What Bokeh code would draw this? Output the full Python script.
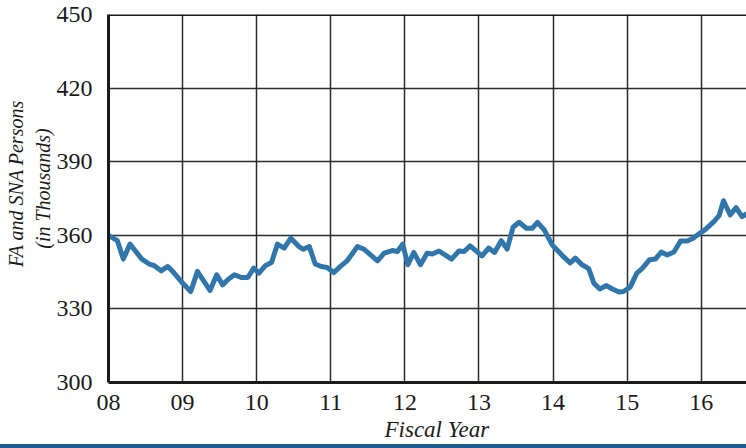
from bokeh.plotting import figure
from bokeh.models import FixedTicker, Span, Div, Range1d, Title
from bokeh.layouts import column
from bokeh.embed import file_html
from bokeh.resources import INLINE

# Fiscal year (decimal, 08 = FY2008) and FA and SNA persons (thousands)
fiscal_year = [
    8.00, 8.12, 8.20, 8.29, 8.45, 8.55, 8.62, 8.71, 8.80, 8.86, 8.98,
    9.11, 9.20, 9.37, 9.46, 9.54, 9.61, 9.70, 9.79, 9.88, 9.96,
    10.03, 10.12, 10.20, 10.28, 10.37, 10.46, 10.57, 10.63, 10.71, 10.79, 10.87, 10.95,
    11.04, 11.13, 11.22, 11.36, 11.45, 11.63, 11.72, 11.83, 11.90, 11.97,
    12.04, 12.12, 12.21, 12.30, 12.37, 12.46, 12.63, 12.73, 12.80, 12.88,
    13.04, 13.13, 13.21, 13.30, 13.38, 13.46, 13.54, 13.64, 13.72, 13.79, 13.88, 13.99,
    14.06, 14.14, 14.23, 14.30, 14.39, 14.48, 14.55, 14.63, 14.72, 14.80, 14.89, 14.95,
    15.04, 15.13, 15.20, 15.30, 15.38, 15.46, 15.54, 15.63, 15.72, 15.81, 15.89, 15.97,
    16.06, 16.17, 16.24, 16.30, 16.39, 16.47, 16.55, 16.61,
]
persons_thousands = [
    360.0, 357.8, 350.3, 356.4, 350.3, 348.3, 347.6, 345.5, 347.3, 345.5, 341.2,
    337.1, 345.3, 337.5, 343.9, 339.8, 341.9, 343.9, 342.8, 342.8, 346.6,
    344.6, 347.7, 348.9, 356.4, 354.8, 358.8, 355.4, 354.3, 355.4, 348.3, 347.3, 346.9,
    344.8, 347.3, 349.6, 355.4, 354.3, 349.6, 352.7, 353.8, 353.4, 356.4,
    348.0, 353.0, 348.0, 352.7, 352.4, 353.6, 350.3, 353.6, 353.4, 355.7,
    351.6, 354.8, 353.0, 357.8, 354.4, 363.3, 365.3, 362.9, 362.9, 365.3, 362.2, 356.0,
    353.8, 351.3, 348.7, 350.7, 348.0, 346.4, 340.5, 338.1, 339.5, 338.1, 336.9, 337.1,
    338.9, 344.6, 346.4, 350.0, 350.3, 353.2, 352.0, 353.2, 357.7, 357.7, 358.8, 360.6,
    362.5, 365.6, 368.0, 374.1, 368.3, 371.3, 367.6, 368.7,
]

x_ticks = [8, 9, 10, 11, 12, 13, 14, 15, 16]
x_tick_labels = ["08", "09", "10", "11", "12", "13", "14", "15", "16"]
y_ticks = [300, 330, 360, 390, 420, 450]

SERIF = "Liberation Serif"
LINE_BLUE = "#3176aa"
BAR_BLUE = "#1c5d8f"
INK = "#1a1a1a"
NB = "\u00a0"

p = figure(width=746, height=444, output_backend="svg", toolbar_location=None,
           x_range=Range1d(8, 16.61), y_range=Range1d(300, 450),
           min_border_left=108, min_border_right=0, min_border_top=14,
           min_border_bottom=61, outline_line_color=None,
           background_fill_color="white", border_fill_color="white")

p.line(fiscal_year, persons_thousands, line_color=LINE_BLUE, line_width=5,
       line_join="round", line_cap="round")

# grid
p.xgrid.ticker = FixedTicker(ticks=x_ticks)
p.ygrid.ticker = FixedTicker(ticks=y_ticks)
for g in (p.xgrid, p.ygrid):
    g.grid_line_color = "#2b2b2b"
    g.grid_line_width = 1.5

# axes
p.xaxis.ticker = FixedTicker(ticks=x_ticks)
p.xaxis.major_label_overrides = {t: l for t, l in zip(x_ticks, x_tick_labels)}
p.yaxis.ticker = FixedTicker(ticks=y_ticks)
for ax in (p.xaxis, p.yaxis):
    ax.axis_line_color = INK
    ax.axis_line_width = 3
    ax.major_tick_line_color = None
    ax.minor_tick_line_color = None
    ax.major_label_text_font = SERIF
    ax.major_label_text_font_size = "24px"
    ax.major_label_text_color = INK
p.xaxis.major_label_standoff = 6
p.yaxis.major_label_standoff = 10

p.yaxis.axis_label = NB * 6 + "FA and SNA Persons\n" + NB * 4 + "(in Thousands)"
p.yaxis.axis_label_text_font = SERIF
p.yaxis.axis_label_text_font_style = "italic"
p.yaxis.axis_label_text_font_size = "20px"
p.yaxis.axis_label_text_color = INK
p.yaxis.axis_label_standoff = 0

# top border
p.add_layout(Span(location=450, dimension="width", line_color=INK, line_width=3))

# x axis title
p.add_layout(Title(text="Fiscal Year", align="left", offset=276, standoff=5,
                   text_font=SERIF, text_font_style="italic",
                   text_font_size="23px", text_color=INK), "below")

bar = Div(text="", width=746, height=4, margin=0,
          styles={"background-color": BAR_BLUE})

layout = column(p, bar, spacing=0)

open("out.html", "w").write(file_html(layout, INLINE))
